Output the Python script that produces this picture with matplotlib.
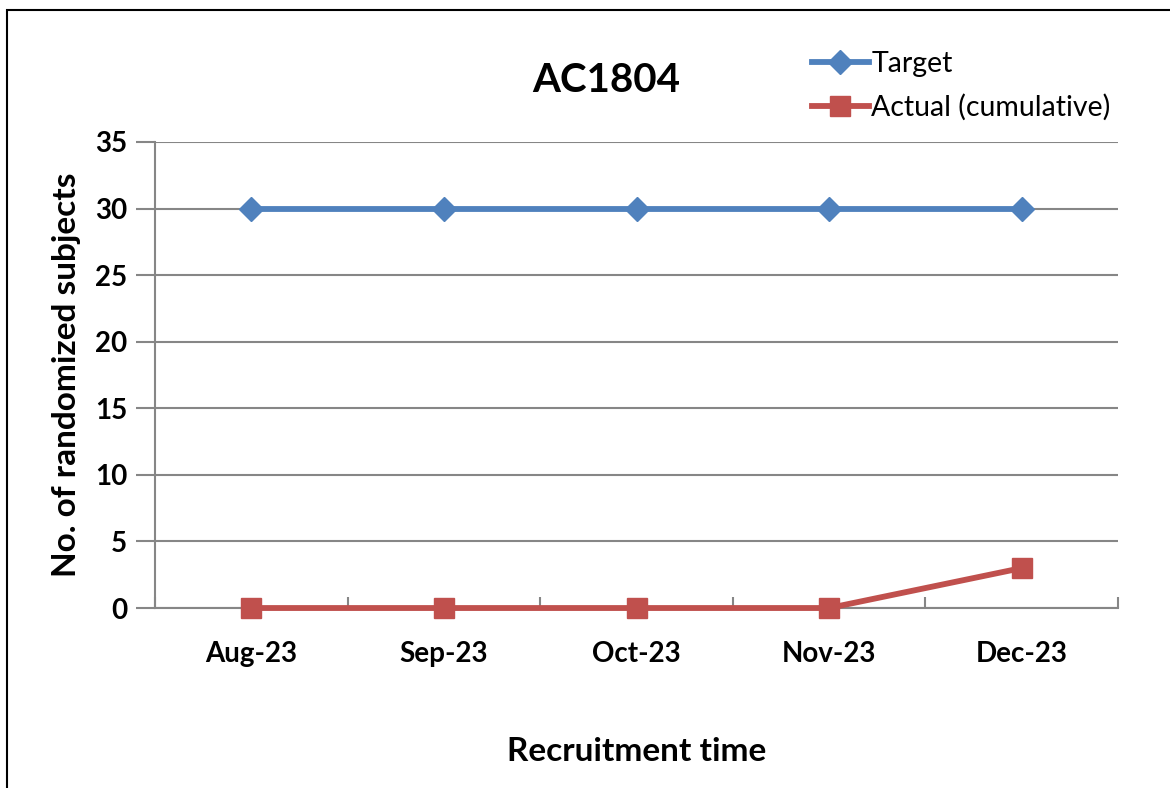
import matplotlib.pyplot as plt
from matplotlib.patches import Rectangle

months = ['Aug-23', 'Sep-23', 'Oct-23', 'Nov-23', 'Dec-23']
target = [30, 30, 30, 30, 30]
actual = [0, 0, 0, 0, 3]

plt.rcParams['font.family'] = ['Lato', 'DejaVu Sans']

fig = plt.figure(figsize=(11.7, 7.88), dpi=100)
ax = fig.add_axes([0.1325, 0.2284, 0.8231, 0.5914])

x = list(range(len(months)))
ax.plot(x, target, color='#4F81BD', lw=4.2, marker='D', ms=12, label='Target',
        zorder=4, clip_on=False)
ax.plot(x, actual, color='#C0504D', lw=4.2, marker='s', ms=14.5, label='Actual (cumulative)',
        zorder=4, clip_on=False)

ax.set_xlim(-0.5, len(months) - 0.5)
ax.set_ylim(0, 35)
ax.set_yticks(range(0, 36, 5))
ax.set_xticks([i + 0.5 for i in range(-1, len(months))], minor=False)
ax.set_xticklabels([])
ax.set_xticks(x, minor=True)
ax.set_xticklabels(months, minor=True)
ax.tick_params(axis='x', which='major', direction='in', length=8, width=1.5, color='#868686')
ax.tick_params(axis='x', which='minor', length=0, pad=24, labelsize=20)
ax.tick_params(axis='y', direction='out', length=14, width=1.5, color='#868686', labelsize=20, pad=6)
for lab in ax.get_xticklabels(minor=True) + ax.get_yticklabels():
    lab.set_fontweight('bold')

ax.grid(axis='y', color='#868686', lw=1.5)
ax.set_axisbelow(True)
for s in ['top', 'right']:
    ax.spines[s].set_visible(False)
ax.spines['left'].set_color('#868686')
ax.spines['bottom'].set_color('#868686')
ax.spines['left'].set_linewidth(1.5)
ax.spines['bottom'].set_linewidth(1.5)

ax.set_ylabel('No. of randomized subjects', fontsize=24, fontweight='bold', labelpad=10)
ax.set_xlabel('Recruitment time', fontsize=24, fontweight='bold', labelpad=50)
fig.text(0.518, 0.898, 'AC1804', fontsize=29, fontweight='bold', ha='center', va='center')

ax.legend(loc='upper left', bbox_to_anchor=(0.67, 1.22), frameon=False, fontsize=20.5,
          handlelength=2.0, handletextpad=0.1, labelspacing=0.6, borderaxespad=0)

fig.patches.append(Rectangle((0.006, -0.1), 1.2, 1.087, transform=fig.transFigure,
                             fill=False, edgecolor='black', lw=1.5))

plt.savefig('out.png', dpi=100)
